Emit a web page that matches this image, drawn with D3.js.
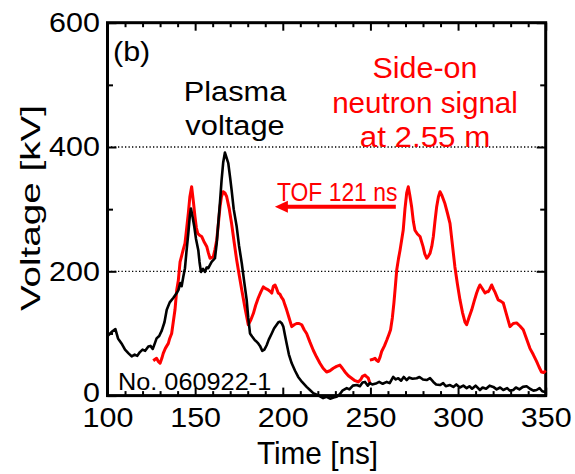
<!DOCTYPE html>
<html>
<head>
<meta charset="utf-8">
<script src="https://cdn.jsdelivr.net/npm/d3@7"></script>
<style>
  html, body { margin: 0; padding: 0; background: #fff; }
  svg { display: block; }
  text { font-family: "Liberation Sans", Arial, Helvetica, sans-serif; }
</style>
</head>
<body>
<svg id="chart" width="575" height="474"></svg>
<script>
// ---------------- data ----------------
const xTicks = [100, 150, 200, 250, 300, 350];
const yTicks = [0, 200, 400, 600];
const yGrid = [200, 400];
const xMinor = [110,120,130,140,160,170,180,190,210,220,230,240,260,270,280,290,310,320,330,340];
const yMinor = [100, 300, 500];

// Plasma voltage (black)
const plasmaT = [100,101.5,103,104.5,106,108,110,112,113.8,115.5,117,118.5,120,121.5,123.3,124.5,125.8,127,128,129.5,131,132.5,133.8,135.5,137.5,139.5,140.5,141.5,142.3,143.3,144.2,145,146.1,147,147.6,148.5,149.5,150.5,151.8,152.5,153.3,154.5,155.6,156.5,157.5,159.4,161.3,162.3,163.2,164.2,165.1,166,167,168,168.9,170,170.8,172,173.7,175,176.6,178,179.4,180.3,181.3,182.5,184.1,185,186,187,188.3,189.5,190.8,192,193.7,195,196.5,197.5,198.4,199.5,200.3,201.2,202.2,203.5,205.1,207,208.8,211,213.6,215.5,217.4,219,221,223,225,227,229,230.7,232.5,234,236.5,238,240,242.2,244,245.5,246.9,248.5,249.7,251,253.6,255,257,259.3,261,263,264.5,265.9,267.5,269,270.7,272,274,276.4,278,280,282.1,284,285.9,287.5,289.7,291.5,293,295.4,297.3,299,301,303,304.9,306.5,308,310,312.5,314,316,318,320.1,322,324,325.8,328,329.5,331.5,333,335,337,339.1,341,343,344.8,346.5,348,349.6,350];
const plasmaV = [96,100,104,107,92,84,74,68,63,66,64,70,74,72,79,80,75,84,92,96,105,118,138,150,157,165,170,181,176,192,205,230,261,290,301,288,272,252,234,215,199,204,199,206,205,215,221,245,277,312,347,375,391,382,374,350,331,300,272,242,213,183,154,125,100,95,89,87,84,80,72,74,81,90,100,108,114,118,119,116,111,98,84,66,52,40,30,22,14,9,4,2,-1,-4,-2,-5,-3,-2,2,8,12,10,16,17,15,21,22,16,20,18,20,22,19,22,20,30,26,28,24,30,25,29,27,28,30,26,25,28,22,18,17,20,15,17,14,18,13,16,12,15,11,16,9,13,11,16,14,10,13,9,12,8,9,13,10,14,15,11,8,9,12,7,6,5];

// Side-on neutron signal shifted by TOF (red, left part)
const shiftedT = [126.1,127,128,129,130,131,131.8,133,134.7,135.5,136.6,137.5,138.5,139.5,140.4,141.4,142.3,143.2,144.2,145,146.1,147,148,149,149.9,150.7,151.5,152.5,153.7,155,156.6,157.5,158.5,159.5,160.4,161.3,162.3,163.2,164.2,165,166,167,168,169.5,170.8,172.2,173.7,175.2,176.6,178.5,180.3,181.8,183.2,184.5,186,187.5,188.9,190.3,191.7,192.7,193.7,194.6,195.6,196.5,197.4,198.4,199.3,200.3,201.2,202.2,203.7,205.1,206.5,207.9,209.3,210.8,212.2,213.6,215.5,217.4,219.3,221.2,223,225,226.9,228.8,230.7,232.6,234,235.5,237.4,239.3,241.2,243.1,244.5,245.5,246.9,248,248.8,249.7];
const shiftedV = [56,58,60,55,52,60,68,76,84,92,100,118,138,170,185,215,225,235,245,265,293,320,336,312,288,270,261,258,256,248,240,230,221,222,224,235,250,275,304,320,328,326,320,300,277,248,218,193,170,140,114,122,132,145,157,167,175,172,170,168,165,176,178,172,165,163,158,154,146,138,124,111,114,116,116,114,106,100,86,73,62,52,44,38,40,44,47,49,44,38,32,28,24,22,26,31,33,30,28,20];

// Side-on neutron signal at 2.55 m, raw time (red, right part)
const neutronT = [249.7,251,252.6,253.5,254.5,255.5,256.4,258,259.3,260.5,261.5,262.5,263.4,264.2,265,266,266.9,267.8,268.7,269.7,270.7,271.6,272.5,273.5,274.5,275.4,276.8,278.3,280,281,282.1,283,284,285,285.9,286.8,287.8,288.8,289.7,290.8,292.5,294,295.4,296.8,298.2,299.6,301.1,302.5,304,304.9,306.3,307.8,309.2,310.6,311.5,312.5,313.9,315.4,316.3,317.2,318.2,319.2,320.1,321,322,322.9,324.3,325.8,327.7,329.6,331.5,333.4,335.3,337.2,339,341,342.9,344.8,346.2,347.6,348.8,350];
const neutronV = [57,58,60,57,55,62,71,80,89,98,106,125,149,175,202,220,234,250,266,300,326,336,322,304,280,266,260,256,240,228,221,224,229,240,256,280,304,320,328,322,309,293,277,242,207,180,154,134,118,114,126,138,152,165,172,178,172,165,167,167,172,178,172,167,160,154,152,149,130,111,116,117,112,106,92,76,66,55,46,38,37,40];

// TOF arrow annotation (data coordinates)
const tofArrowFrom = 264.5, tofArrowTo = 195.5, tofArrowV = 304;

// ---------------- drawing ----------------
const svg = d3.select("#chart");
const L = 107.5, R = 545.7, T = 22.7, B = 395.6;
const x = d3.scaleLinear().domain([100, 350]).range([L, R]);
const y = d3.scaleLinear().domain([0, 600]).range([B, T]);

// gridlines
svg.append("g").selectAll("line").data(yGrid).join("line")
  .attr("x1", L).attr("x2", R)
  .attr("y1", d => y(d)).attr("y2", d => y(d))
  .attr("stroke", "#000").attr("stroke-width", 1.3)
  .attr("stroke-dasharray", "1.3,2.2");

function styleAxis(g) {
  g.select(".domain").remove();
  g.selectAll(".tick line").attr("stroke", "#000").attr("stroke-width", 2);
}

// bottom axis
svg.append("g").attr("transform", `translate(0,${B})`)
  .call(d3.axisBottom(x).tickValues(xTicks).tickSizeInner(-8).tickSizeOuter(0).tickPadding(12).tickFormat(d3.format("d")))
  .call(styleAxis)
  .call(g => g.selectAll(".tick text").attr("font-size", 28).attr("fill", "#000")
    .attr("font-family", '"Liberation Sans", Arial, sans-serif').attr("transform", "scale(1.09,1)"));
svg.append("g").attr("transform", `translate(0,${B})`)
  .call(d3.axisBottom(x).tickValues(xMinor).tickSize(-4.5).tickFormat(""))
  .call(styleAxis);

// top axis
svg.append("g").attr("transform", `translate(0,${T})`)
  .call(d3.axisTop(x).tickValues(xTicks).tickSize(-8).tickFormat(""))
  .call(styleAxis);
svg.append("g").attr("transform", `translate(0,${T})`)
  .call(d3.axisTop(x).tickValues(xMinor).tickSize(-4.5).tickFormat(""))
  .call(styleAxis);

// left axis
svg.append("g").attr("transform", `translate(${L},0)`)
  .call(d3.axisLeft(y).tickValues(yTicks).tickSizeInner(-9).tickSizeOuter(0).tickPadding(7).tickFormat(d3.format("d")))
  .call(styleAxis)
  .call(g => g.selectAll(".tick text").attr("font-size", 28).attr("fill", "#000")
    .attr("font-family", '"Liberation Sans", Arial, sans-serif').attr("transform", "scale(1.09,1)"))
  .call(g => g.selectAll(".tick").filter(d => d === 0).select("text").attr("dy", "0.22em"));
svg.append("g").attr("transform", `translate(${L},0)`)
  .call(d3.axisLeft(y).tickValues(yMinor).tickSize(-5.5).tickFormat(""))
  .call(styleAxis);

// right axis
svg.append("g").attr("transform", `translate(${R},0)`)
  .call(d3.axisRight(y).tickValues(yTicks).tickSize(-9).tickFormat(""))
  .call(styleAxis);
svg.append("g").attr("transform", `translate(${R},0)`)
  .call(d3.axisRight(y).tickValues(yMinor).tickSize(-5.5).tickFormat(""))
  .call(styleAxis);

// frame
svg.append("rect").attr("x", L).attr("y", T).attr("width", R - L).attr("height", B - T)
  .attr("fill", "none").attr("stroke", "#000").attr("stroke-width", 3);

// curves
const line = d3.line().x(d => x(d[0])).y(d => y(d[1])).curve(d3.curveLinear);
const zip = (a, b) => a.map((v, i) => [v, b[i]]);

svg.append("path").datum(zip(shiftedT, shiftedV)).attr("d", line)
  .attr("fill", "none").attr("stroke", "#ff0000").attr("stroke-width", 3).attr("stroke-linejoin", "round");
svg.append("path").datum(zip(neutronT, neutronV)).attr("d", line)
  .attr("fill", "none").attr("stroke", "#ff0000").attr("stroke-width", 3).attr("stroke-linejoin", "round");
svg.append("path").datum(zip(plasmaT, plasmaV)).attr("d", line)
  .attr("fill", "none").attr("stroke", "#000").attr("stroke-width", 2.6).attr("stroke-linejoin", "round");

// text helper
function label(txt, px, py, size, color, anchor, sx) {
  svg.append("text")
    .attr("transform", `translate(${px},${py}) scale(${sx},1)`)
    .attr("text-anchor", anchor).attr("font-size", size).attr("fill", color)
    .text(txt);
}

label("(b)", 113, 61, 28, "#000", "start", 1.09);
label("Plasma", 235, 101, 28, "#000", "middle", 1.1);
label("voltage", 235, 135, 28, "#000", "middle", 1.1);
label("Side-on", 425, 78, 29, "#ff0000", "middle", 1.05);
label("neutron signal", 425, 113, 29, "#ff0000", "middle", 1.02);
label("at 2.55 m", 425, 146.5, 29, "#ff0000", "middle", 1.08);
label("TOF 121 ns", 277, 201, 25, "#ff0000", "start", 0.915);
label("No. 060922-1", 118, 390, 23, "#000", "start", 1.1);
label("Time [ns]", 317.5, 464, 32, "#000", "middle", 0.93);

// y axis title (rotated)
svg.append("text")
  .attr("transform", "translate(40,208) rotate(-90) scale(1.38,1)")
  .attr("text-anchor", "middle").attr("font-size", 28).attr("fill", "#000")
  .text("Voltage [kV]");

// TOF arrow
const ay = y(tofArrowV);
svg.append("line")
  .attr("x1", x(tofArrowFrom)).attr("x2", x(tofArrowTo) + 10)
  .attr("y1", ay).attr("y2", ay)
  .attr("stroke", "#ff0000").attr("stroke-width", 4);
svg.append("path")
  .attr("d", `M${x(tofArrowTo)},${ay} L${x(tofArrowTo) + 13},${ay - 6} L${x(tofArrowTo) + 13},${ay + 6} Z`)
  .attr("fill", "#ff0000");
</script>
</body>
</html>
